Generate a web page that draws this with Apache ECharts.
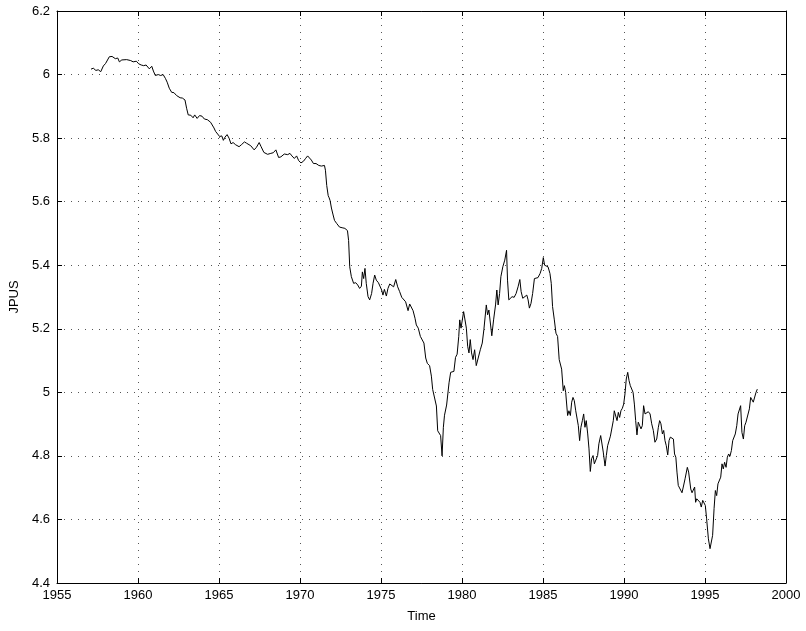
<!DOCTYPE html>
<html lang="en">
<head>
    <meta charset="UTF-8">
    <title>JPUS</title>
    <style>
        body {
            margin: 0;
            padding: 0;
            background: #fff;
        }
        #chart {
            width: 806px;
            height: 631px;
        }
    </style>
</head>
<body>
<div id="chart"></div>
<script src="https://cdn.jsdelivr.net/npm/echarts@6/dist/echarts.min.js"></script>
<script>
    // roughly monthly-ish
    const years = [
        1957.1, 1957.24, 1957.4, 1957.55, 1957.7, 1957.86, 1958.0, 1958.23, 1958.4, 1958.6,
        1958.75, 1958.85, 1959.0, 1959.1, 1959.3, 1959.42, 1959.55, 1959.7, 1959.9, 1960.04,
        1960.2, 1960.35, 1960.5, 1960.7, 1960.85, 1960.95, 1961.07, 1961.25, 1961.4, 1961.55,
        1961.69, 1961.8, 1961.93, 1962.08, 1962.22, 1962.38, 1962.6, 1962.74, 1962.9, 1963.0,
        1963.1, 1963.26, 1963.4, 1963.5, 1963.65, 1963.8, 1963.95, 1964.1, 1964.28, 1964.48,
        1964.69, 1964.79, 1964.9, 1965.04, 1965.17, 1965.27, 1965.37, 1965.5, 1965.62, 1965.74,
        1965.87, 1966.03, 1966.24, 1966.4, 1966.57, 1966.7, 1966.82, 1966.96, 1967.17, 1967.31,
        1967.48, 1967.6, 1967.77, 1968.0, 1968.2, 1968.35, 1968.51, 1968.68, 1968.82, 1969.03,
        1969.24, 1969.38, 1969.5, 1969.65, 1969.79, 1969.92, 1970.06, 1970.21, 1970.33, 1970.47,
        1970.58, 1970.7, 1970.83, 1970.99, 1971.16, 1971.32, 1971.51, 1971.57, 1971.65, 1971.74,
        1971.8, 1971.86, 1971.94, 1972.03, 1972.13, 1972.27, 1972.44, 1972.6, 1972.77, 1972.93,
        1973.0, 1973.07, 1973.17, 1973.31, 1973.44, 1973.56, 1973.68, 1973.79, 1973.85, 1973.93,
        1974.01, 1974.09, 1974.2, 1974.3, 1974.42, 1974.51, 1974.61, 1974.71, 1974.84, 1974.94,
        1975.04, 1975.12, 1975.21, 1975.33, 1975.43, 1975.54, 1975.66, 1975.78, 1975.91, 1976.03,
        1976.15, 1976.28, 1976.4, 1976.52, 1976.67, 1976.77, 1976.87, 1976.98, 1977.1, 1977.18,
        1977.3, 1977.43, 1977.55, 1977.65, 1977.76, 1977.86, 1978.0, 1978.11, 1978.19, 1978.31,
        1978.42, 1978.5, 1978.62, 1978.68, 1978.77, 1978.85, 1978.92, 1979.05, 1979.2, 1979.3,
        1979.5, 1979.6, 1979.7, 1979.8, 1979.86, 1979.94, 1980.02, 1980.1, 1980.18, 1980.27,
        1980.35, 1980.43, 1980.51, 1980.59, 1980.68, 1980.78, 1980.88, 1981.0, 1981.13, 1981.25,
        1981.35, 1981.41, 1981.5, 1981.58, 1981.66, 1981.74, 1981.84, 1981.95, 1982.07, 1982.15,
        1982.23, 1982.32, 1982.4, 1982.52, 1982.64, 1982.75, 1982.81, 1982.89, 1982.97, 1983.09,
        1983.22, 1983.34, 1983.46, 1983.57, 1983.65, 1983.75, 1983.87, 1984.0, 1984.08, 1984.16,
        1984.26, 1984.36, 1984.47, 1984.57, 1984.69, 1984.82, 1984.92, 1985.02, 1985.1, 1985.18,
        1985.31, 1985.43, 1985.51, 1985.59, 1985.7, 1985.8, 1985.9, 1986.0, 1986.05, 1986.15,
        1986.25, 1986.32, 1986.4, 1986.52, 1986.6, 1986.69, 1986.77, 1986.85, 1986.93, 1987.02,
        1987.1, 1987.18, 1987.26, 1987.34, 1987.43, 1987.51, 1987.59, 1987.67, 1987.76, 1987.84,
        1987.92, 1988.0, 1988.09, 1988.17, 1988.29, 1988.37, 1988.45, 1988.56, 1988.64, 1988.72,
        1988.83, 1988.91, 1988.99, 1989.07, 1989.16, 1989.24, 1989.34, 1989.4, 1989.49, 1989.57,
        1989.65, 1989.73, 1989.81, 1989.9, 1989.98, 1990.06, 1990.14, 1990.23, 1990.31, 1990.39,
        1990.47, 1990.56, 1990.64, 1990.72, 1990.8, 1990.88, 1990.97, 1991.05, 1991.13, 1991.21,
        1991.3, 1991.4, 1991.5, 1991.61, 1991.71, 1991.81, 1991.91, 1992.02, 1992.12, 1992.2,
        1992.28, 1992.37, 1992.45, 1992.53, 1992.61, 1992.7, 1992.78, 1992.86, 1992.94, 1993.05,
        1993.12, 1993.2, 1993.27, 1993.35, 1993.46, 1993.58, 1993.66, 1993.77, 1993.91, 1993.99,
        1994.12, 1994.2, 1994.28, 1994.36, 1994.42, 1994.49, 1994.59, 1994.69, 1994.77, 1994.86,
        1994.94, 1995.02, 1995.1, 1995.21, 1995.31, 1995.39, 1995.47, 1995.56, 1995.64, 1995.72,
        1995.8, 1995.88, 1995.97, 1996.05, 1996.13, 1996.21, 1996.3, 1996.38, 1996.46, 1996.54,
        1996.63, 1996.71, 1996.79, 1996.87, 1996.96, 1997.04, 1997.12, 1997.2, 1997.28, 1997.37,
        1997.45, 1997.53, 1997.65, 1997.74, 1997.82, 1997.9, 1997.98, 1998.07, 1998.15, 1998.23
    ];
    const jpus = [
        6.017, 6.02, 6.013, 6.015, 6.009, 6.027, 6.035, 6.056, 6.057, 6.05,
        6.052, 6.04, 6.046, 6.049, 6.047, 6.053, 6.044, 6.04, 6.042, 6.034,
        6.03, 6.028, 6.03, 6.018, 6.026, 6.011, 5.997, 6.0, 5.997, 6.0,
        5.988, 5.976, 5.957, 5.944, 5.943, 5.934, 5.927, 5.926, 5.92, 5.894,
        5.873, 5.872, 5.864, 5.873, 5.862, 5.871, 5.869, 5.86, 5.858, 5.85,
        5.832, 5.821, 5.827, 5.805, 5.807, 5.793, 5.803, 5.811, 5.8, 5.782,
        5.786, 5.779, 5.773, 5.78, 5.788, 5.784, 5.786, 5.776, 5.763, 5.771,
        5.786, 5.773, 5.755, 5.749, 5.752, 5.754, 5.763, 5.739, 5.741, 5.75,
        5.748, 5.752, 5.744, 5.736, 5.744, 5.729, 5.722, 5.727, 5.735, 5.744,
        5.744, 5.731, 5.72, 5.72, 5.714, 5.712, 5.714, 5.699, 5.651, 5.619,
        5.612, 5.603, 5.58, 5.561, 5.541, 5.531, 5.52, 5.518, 5.516, 5.509,
        5.478, 5.395, 5.364, 5.343, 5.345, 5.338, 5.327, 5.334, 5.379, 5.358,
        5.39, 5.343, 5.301, 5.291, 5.311, 5.343, 5.369, 5.353, 5.345, 5.351,
        5.322, 5.306, 5.324, 5.303, 5.327, 5.341, 5.345, 5.332, 5.355, 5.332,
        5.317, 5.299, 5.299, 5.285, 5.257, 5.278, 5.28, 5.257, 5.233, 5.212,
        5.202, 5.176, 5.178, 5.155, 5.108, 5.091, 5.084, 5.051, 5.009, 5.009,
        4.957, 4.879, 4.874, 4.864, 4.8, 4.89, 4.928, 4.96, 5.03, 5.063,
        5.066, 5.11, 5.12, 5.176, 5.228, 5.202, 5.205, 5.254, 5.249, 5.202,
        5.145, 5.124, 5.166, 5.124, 5.103, 5.134, 5.084, 5.108, 5.134, 5.155,
        5.197, 5.199, 5.275, 5.244, 5.259, 5.254, 5.178, 5.228, 5.275, 5.322,
        5.275, 5.311, 5.364, 5.395, 5.416, 5.447, 5.353, 5.291, 5.296, 5.301,
        5.299, 5.311, 5.332, 5.355, 5.317, 5.296, 5.299, 5.306, 5.291, 5.265,
        5.28, 5.311, 5.358, 5.361, 5.361, 5.374, 5.39, 5.424, 5.4, 5.4,
        5.395, 5.374, 5.343, 5.27, 5.228, 5.186, 5.176, 5.103, 5.105, 5.073,
        5.005, 5.021, 5.0, 4.927, 4.942, 4.927, 4.969, 4.984, 4.974, 4.942,
        4.937, 4.895, 4.848, 4.89, 4.911, 4.932, 4.89, 4.911, 4.869, 4.822,
        4.751, 4.791, 4.801, 4.775, 4.774, 4.801, 4.838, 4.864, 4.859, 4.812,
        4.768, 4.801, 4.832, 4.83, 4.862, 4.859, 4.911, 4.942, 4.946, 4.911,
        4.937, 4.921, 4.942, 4.95, 4.963, 4.995, 5.042, 5.063, 5.037, 5.021,
        5.026, 5.0, 4.963, 4.911, 4.866, 4.906, 4.911, 4.885, 4.895, 4.958,
        4.932, 4.937, 4.939, 4.932, 4.901, 4.88, 4.843, 4.853, 4.89, 4.911,
        4.901, 4.869, 4.88, 4.848, 4.832, 4.803, 4.848, 4.859, 4.862, 4.853,
        4.806, 4.796, 4.749, 4.707, 4.707, 4.684, 4.702, 4.728, 4.764, 4.749,
        4.696, 4.684, 4.686, 4.702, 4.654, 4.665, 4.663, 4.654, 4.639, 4.66,
        4.654, 4.644, 4.602, 4.539, 4.508, 4.503, 4.55, 4.634, 4.691, 4.675,
        4.712, 4.717, 4.733, 4.775, 4.759, 4.78, 4.764, 4.796, 4.806, 4.799,
        4.817, 4.848, 4.853, 4.869, 4.895, 4.932, 4.932, 4.958, 4.874, 4.853,
        4.895, 4.906, 4.911, 4.948, 4.984, 4.99, 4.969, 4.974, 5.0, 5.01
    ];
    const xTicks = [1955, 1960, 1965, 1970, 1975, 1980, 1985, 1990, 1995, 2000];
    const yTicks = [4.4, 4.6, 4.8, 5.0, 5.2, 5.4, 5.6, 5.8, 6.0, 6.2];

    const chart = echarts.init(document.getElementById("chart"));
    const font = "Liberation Sans, Arial, sans-serif";
    const black = "#000";

    const boxAxis = (extra) => Object.assign({
        type: "value",
        axisLine: {show: true, onZero: false, lineStyle: {color: black, width: 1}},
        axisTick: {show: true, inside: true, length: 5, lineStyle: {color: black}},
        axisLabel: {show: false},
        splitLine: {show: false},
    }, extra);

    const option = {
        backgroundColor: "#fff",
        animation: false,
        grid: {
            left: 57,
            right: 20,
            top: 11,
            bottom: 48,
            containLabel: false,
            outerBoundsMode: "none",
        },
        xAxis: [
            boxAxis({
                min: xTicks[0],
                max: xTicks[xTicks.length - 1],
                interval: 5,
                position: "bottom",
                name: "Time",
                nameLocation: "middle",
                nameGap: 27,
                nameTextStyle: {color: black, fontFamily: font, fontSize: 13},
                axisLabel: {
                    show: true, color: black, fontFamily: font, fontSize: 13, margin: 6,
                    formatter: (v) => String(Math.round(v)),
                },
                splitLine: {show: true, lineStyle: {color: "#555", type: [1, 6], width: 1}},
            }),
            boxAxis({
                min: xTicks[0],
                max: xTicks[xTicks.length - 1],
                interval: 5,
                position: "top",
            }),
        ],
        yAxis: [
            boxAxis({
                min: yTicks[0],
                max: yTicks[yTicks.length - 1],
                interval: 0.2,
                position: "left",
                name: "JPUS",
                nameLocation: "middle",
                nameGap: 33,
                nameRotate: 90,
                nameTextStyle: {color: black, fontFamily: font, fontSize: 13},
                axisLabel: {
                    show: true, color: black, fontFamily: font, fontSize: 13, margin: 7,
                    formatter: (v) => String(+v.toFixed(1)),
                },
                splitLine: {show: true, lineStyle: {color: "#555", type: [1, 6], width: 1}},
            }),
            boxAxis({
                min: yTicks[0],
                max: yTicks[yTicks.length - 1],
                interval: 0.2,
                position: "right",
            }),
        ],
        series: [
            {
                type: "line",
                data: years.map((y, i) => [y, jpus[i]]),
                showSymbol: false,
                symbol: "none",
                lineStyle: {color: black, width: 1},
                xAxisIndex: 0,
                yAxisIndex: 0,
            },
        ],
    };

    chart.setOption(option);
</script>
</body>
</html>
